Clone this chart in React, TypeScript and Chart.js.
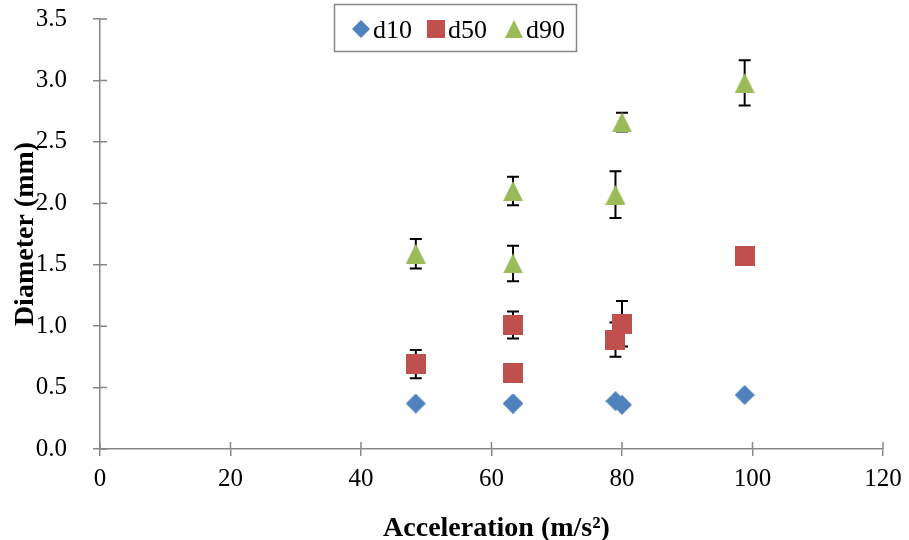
import React, { useEffect, useRef } from 'react';
import { Chart, registerables } from 'chart.js';
Chart.register(...registerables);

// ---- data ----
const seriesNames = ['d10', 'd50', 'd90'];
const accel = [48.4, 63.3, 63.3, 80.0, 79.0, 98.8];
const d10 = [0.37, 0.37, 0.37, 0.36, 0.39, 0.44];
const d50 = [0.69, 1.01, 0.62, 1.02, 0.89, 1.57];
const d90 = [1.59, 2.10, 1.51, 2.66, 2.07, 2.98];
const d10Err = [0, 0, 0, 0, 0, 0];
const d50Err = [0.115, 0.11, 0.05, 0.185, 0.14, 0.05];
const d90Err = [0.12, 0.115, 0.145, 0.076, 0.19, 0.185];
const xTicks = [0, 20, 40, 60, 80, 100, 120];
const xTickLabels = ['0', '20', '40', '60', '80', '100', '120'];
const yTicks = [0, 0.5, 1.0, 1.5, 2.0, 2.5, 3.0, 3.5];
const yTickLabels = ['0.0', '0.5', '1.0', '1.5', '2.0', '2.5', '3.0', '3.5'];
const xTitle = 'Acceleration (m/s\u00B2)';
const yTitle = 'Diameter (mm)';

const FONT = '"Liberation Serif", "Times New Roman", serif';
const AXIS = '#868686';
const colors = ['#4F81BD', '#C0504D', '#9BBB59'];
const shapes = ['diamond', 'square', 'triangle'];

function makeMarker(shape: string, fill: string, size: number) {
  const c = document.createElement('canvas');
  c.width = size;
  c.height = size;
  const g = c.getContext('2d')!;
  g.fillStyle = fill;
  g.beginPath();
  if (shape === 'diamond') {
    g.moveTo(size / 2, 0);
    g.lineTo(size, size / 2);
    g.lineTo(size / 2, size);
    g.lineTo(0, size / 2);
  } else if (shape === 'square') {
    g.rect(0, 0, size, size);
  } else {
    g.moveTo(size / 2, 0);
    g.lineTo(size, size);
    g.lineTo(0, size);
  }
  g.closePath();
  g.fill();
  return c;
}

export default function App() {
  const ref = useRef<HTMLCanvasElement>(null);
  useEffect(() => {
    const markers = shapes.map((s, i) => makeMarker(s, colors[i], 20));
    const legendMarkers = shapes.map((s, i) => makeMarker(s, colors[i], 18));
    const values = [d10, d50, d90];
    const errs = [d10Err, d50Err, d90Err];

    const decor = {
      id: 'decor',
      beforeDatasetsDraw(chart: any) {
        const { ctx, scales } = chart;
        const x = scales.x, y = scales.y;
        ctx.save();
        // inner half of cross tick marks
        ctx.strokeStyle = AXIS;
        ctx.lineWidth = 1.5;
        ctx.beginPath();
        xTicks.forEach((v) => {
          const px = x.getPixelForValue(v);
          ctx.moveTo(px, y.bottom);
          ctx.lineTo(px, y.bottom - 7);
        });
        yTicks.forEach((v) => {
          const py = y.getPixelForValue(v);
          ctx.moveTo(x.left, py);
          ctx.lineTo(x.left + 7, py);
        });
        ctx.stroke();
        // error bars
        ctx.strokeStyle = '#000';
        ctx.lineWidth = 2;
        chart.data.datasets.forEach((ds: any) => {
          ds.data.forEach((p: any, i: number) => {
            const e = ds.errors[i];
            if (!e) return;
            const px = x.getPixelForValue(p.x);
            const yt = y.getPixelForValue(p.y + e);
            const yb = y.getPixelForValue(p.y - e);
            ctx.beginPath();
            ctx.moveTo(px, yt);
            ctx.lineTo(px, yb);
            ctx.moveTo(px - 6, yt);
            ctx.lineTo(px + 6, yt);
            ctx.moveTo(px - 6, yb);
            ctx.lineTo(px + 6, yb);
            ctx.stroke();
          });
        });
        ctx.restore();
      },
      afterDraw(chart: any) {
        const { ctx, scales } = chart;
        const x = scales.x, y = scales.y;
        ctx.save();
        ctx.fillStyle = '#000';
        // axis titles
        ctx.font = `bold 28px ${FONT}`;
        ctx.textAlign = 'center';
        ctx.textBaseline = 'alphabetic';
        ctx.fillText(xTitle, (x.left + x.right) / 2 + 5, 536);
        ctx.save();
        ctx.translate(33, (y.top + y.bottom) / 2);
        ctx.rotate(-Math.PI / 2);
        ctx.fillText(yTitle, 0, 0);
        ctx.restore();
        // legend
        ctx.strokeStyle = AXIS;
        ctx.lineWidth = 1.5;
        ctx.strokeRect(334.5, 4.5, 242, 47);
        const mx = [361, 436, 513.5];
        const tx = [373, 448, 526];
        ctx.font = `26px ${FONT}`;
        ctx.textAlign = 'left';
        chart.data.datasets.forEach((ds: any, i: number) => {
          const m = legendMarkers[i];
          ctx.drawImage(m, Math.round(mx[i] - m.width / 2), Math.round(29 - m.height / 2));
          ctx.fillText(ds.label, tx[i], 38);
        });
        ctx.restore();
      },
    };

    const chart = new Chart(ref.current!, {
      type: 'scatter',
      data: {
        datasets: seriesNames.map((name, i) => ({
          label: name,
          data: accel.map((a, j) => ({ x: a, y: values[i][j] })),
          errors: errs[i],
          pointStyle: markers[i] as any,
          pointRadius: 10,
          pointHoverRadius: 10,
          backgroundColor: colors[i],
          borderColor: colors[i],
        })) as any,
      },
      options: {
        animation: false,
        responsive: true,
        maintainAspectRatio: false,
        layout: { padding: { top: 19, right: 26, left: 0, bottom: 0 } },
        plugins: { legend: { display: false }, tooltip: { enabled: false } },
        scales: {
          x: {
            type: 'linear',
            min: 0,
            max: 120,
            afterBuildTicks: (s: any) => {
              s.ticks = xTicks.map((v) => ({ value: v }));
            },
            afterFit: (s: any) => {
              s.height = 91;
              s.paddingLeft = 0;
              s.paddingRight = 0;
            },
            ticks: {
              color: '#000',
              font: { family: FONT, size: 25 },
              padding: 8,
              maxRotation: 0,
              callback: (_v: any, i: number) => xTickLabels[i],
            },
            grid: { drawOnChartArea: false, drawTicks: true, tickLength: 7, color: AXIS, lineWidth: 1.5 },
            border: { display: true, color: AXIS, width: 1.5 },
          },
          y: {
            type: 'linear',
            min: 0,
            max: 3.5,
            afterBuildTicks: (s: any) => {
              s.ticks = yTicks.map((v) => ({ value: v }));
            },
            afterFit: (s: any) => {
              s.width = 100;
              s.paddingTop = 0;
              s.paddingBottom = 0;
            },
            ticks: {
              color: '#000',
              font: { family: FONT, size: 25 },
              padding: 26,
              callback: (_v: any, i: number) => yTickLabels[i],
            },
            grid: { drawOnChartArea: false, drawTicks: true, tickLength: 7, color: AXIS, lineWidth: 1.5 },
            border: { display: true, color: AXIS, width: 1.5 },
          },
        },
      } as any,
      plugins: [decor],
    });
    return () => chart.destroy();
  }, []);

  return (
    <div style={{ position: 'fixed', left: 0, top: 0, width: 909, height: 540, background: '#fff' }}>
      <canvas ref={ref} />
    </div>
  );
}
